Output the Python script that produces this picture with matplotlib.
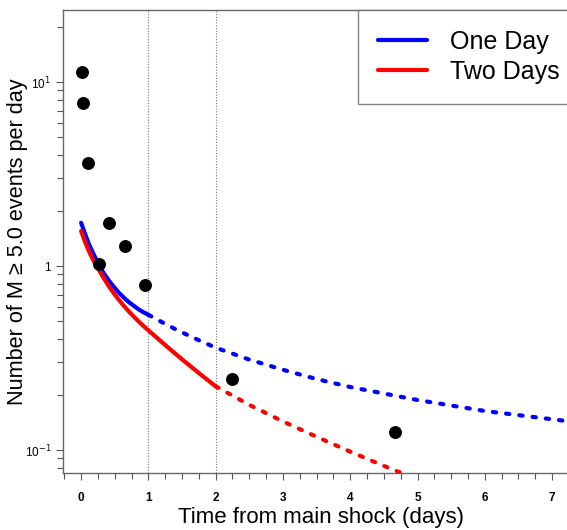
import matplotlib.pyplot as plt
import matplotlib.ticker as mticker

plt.rcParams['font.family'] = ['Liberation Sans', 'DejaVu Sans']

# observed daily counts
obs_t = [0.006, 0.03, 0.10, 0.26, 0.416, 0.65, 0.946, 2.25, 4.66]
obs_rate = [11.3, 7.66, 3.62, 1.03, 1.72, 1.28, 0.785, 0.244, 0.125]

# one day fit: solid part (fitted) and dashed forecast
one_t_fit = [0.0, 0.06, 0.119, 0.19, 0.267, 0.34, 0.416, 0.49, 0.565, 0.64, 0.713, 0.79, 0.862, 0.93, 1.0]
one_r_fit = [1.718, 1.49, 1.306, 1.15, 1.008, 0.91, 0.830, 0.768, 0.713, 0.671, 0.635, 0.605, 0.579, 0.560, 0.543]
one_t_fc = [1.0, 1.19, 1.39, 1.575, 1.77, 2.0, 2.5, 3.0, 3.5, 4.0, 5.0, 6.0, 7.4]
one_r_fc = [0.543, 0.498, 0.456, 0.423, 0.392, 0.360, 0.310, 0.273, 0.243, 0.220, 0.187, 0.163, 0.141]

# two days fit
two_t_fit = [0.0, 0.06, 0.119, 0.19, 0.267, 0.34, 0.416, 0.49, 0.565, 0.64, 0.713, 0.79, 0.862, 0.93,
             1.0, 1.25, 1.5, 1.75, 2.0]
two_r_fit = [1.549, 1.35, 1.197, 1.06, 0.949, 0.855, 0.773, 0.708, 0.653, 0.605, 0.564, 0.528, 0.497, 0.471,
             0.447, 0.372, 0.311, 0.262, 0.222]
two_t_fc = [2.0, 2.5, 3.0, 3.5, 4.0, 4.5, 4.8]
two_r_fc = [0.222, 0.176, 0.143, 0.118, 0.098, 0.082, 0.074]

fig = plt.figure(figsize=(5.67, 5.30), dpi=100)
ax = fig.add_axes([0.111, 0.1075, 0.909, 0.8735])

for xv in [1, 2]:
    ax.axvline(xv, color='#777777', lw=0.8, ls=(0, (1, 1.5)), zorder=1)

ax.plot(one_t_fit, one_r_fit, color='blue', lw=3, solid_capstyle='round', label='One Day', zorder=3)
ax.plot(one_t_fc, one_r_fc, color='blue', lw=3, dashes=(0.8, 2.4), dash_capstyle='round', zorder=3)
ax.plot(two_t_fit, two_r_fit, color='red', lw=3, solid_capstyle='round', label='Two Days', zorder=3)
ax.plot(two_t_fc, two_r_fc, color='red', lw=3, dashes=(0.8, 2.4), dash_capstyle='round', zorder=3)
ax.plot(obs_t, obs_rate, 'o', color='black', ms=8.3, zorder=4)

ax.set_yscale('log')
ax.set_xlim(-0.27, 7.39)
ax.set_ylim(0.075, 24.6)

ax.set_xticks(range(8))
ax.xaxis.set_minor_locator(mticker.MultipleLocator(0.25))
ax.set_yticks([0.1, 1, 10])
ax.set_yticklabels(['10$^{-1}$', '1', '10$^{1}$'])
ax.yaxis.set_minor_locator(mticker.LogLocator(base=10, subs=range(2, 10)))
ax.yaxis.set_minor_formatter(mticker.NullFormatter())

ax.tick_params(axis='both', which='major', direction='out', length=5, width=0.8,
               color='#555555', labelsize=8.5)
ax.tick_params(axis='both', which='minor', direction='out', length=4, width=0.8, color='#555555')
ax.tick_params(axis='x', pad=9)
for lab in ax.get_xticklabels():
    lab.set_fontweight('bold')
for sp in ax.spines.values():
    sp.set_color('#666666')
    sp.set_linewidth(1.0)

ax.set_xlabel('Time from main shock (days)', fontsize=16, labelpad=2)
ax.set_ylabel('Number of M \u2265 5.0 events per day', fontsize=15.6)
ax.yaxis.set_label_coords(-0.068, 0.5)

leg = ax.legend(loc='upper left', bbox_to_anchor=(358 / 567, 1 - 10 / 530),
                bbox_transform=fig.transFigure, fontsize=18, frameon=True,
                fancybox=False, handlelength=1.96, handletextpad=0.92,
                borderpad=0.8, labelspacing=0.22, borderaxespad=0)
leg.get_frame().set_edgecolor('#666666')
leg.get_frame().set_linewidth(1.0)

fig.savefig('out.png', dpi=100)
